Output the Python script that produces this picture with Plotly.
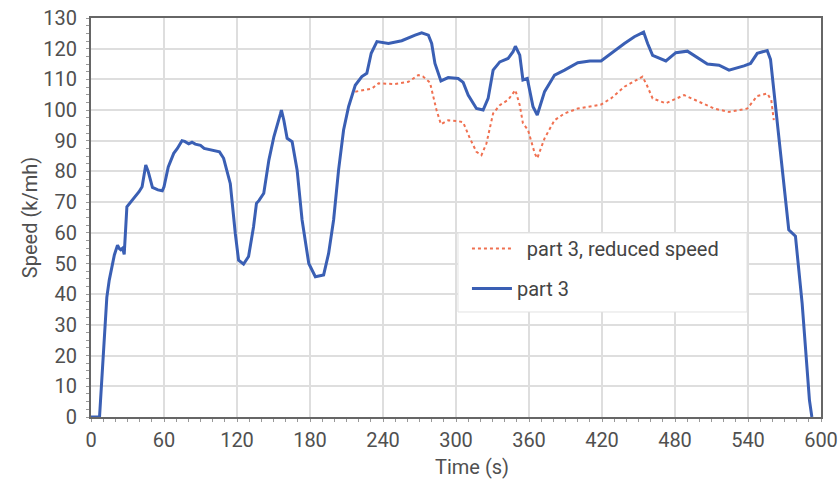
import plotly.graph_objects as go

# ---- data ----
t_part3 = [0, 7, 13, 15, 19.2, 21.8, 23, 24.5, 26, 27.3, 29.5, 34, 36, 39.5, 42, 45, 47, 50.5, 55,
           58.6, 60, 63.5, 68, 71, 74.8, 77, 80.3, 83, 85.7, 90, 93, 98, 102, 105.6, 109, 114.5,
           118.6, 121.3, 125.4, 129.5, 133.6, 136, 138, 142, 146.2, 150.3, 155.8, 156.5, 158.5,
           161.2, 165.3, 169.4, 173.5, 179, 184.4, 191.2, 195.3, 199.4, 203.5, 207.6, 211.7, 217.2,
           222.6, 226.7, 230.3, 235, 244.5, 255.4, 266.4, 271.8, 277.3, 280, 282.7, 287.6, 293.6,
           301.8, 305.9, 310, 316.8, 322.3, 326.4, 330.5, 336, 342.8, 346.9, 348.8, 352.4, 355,
           358.6, 363.3, 366.8, 372.8, 381, 389.2, 400.1, 410, 419.2, 427.4, 438.4, 446.6, 454.2,
           457.5, 461.6, 472.5, 480.7, 490.2, 506.6, 516.2, 524.4, 536.7, 542.1, 547.6, 555.8,
           558.5, 562.6, 568, 573.5, 579, 584.5, 590.5, 592.5]
v_part3 = [0, 0, 39, 44.6, 52.8, 56, 55, 54.5, 55, 53, 68.5, 70.7, 72, 73.4, 75, 82.1, 80, 74.8, 74,
           73.7, 75, 81.5, 85.9, 87.5, 90, 89.8, 89, 89.5, 88.9, 88.5, 87.5, 87, 86.8, 86.4, 84.3, 76,
           59.8, 51.1, 49.8, 52.3, 62, 69.6, 70.5, 72.9, 83.7, 91.3, 98.9, 100, 96.7,
           90.8, 89.7, 80.5, 64.2, 50, 45.7, 46.3, 53.3, 64.2, 80.5, 93.5, 101.1, 108.1,
           110.9, 112, 118.5, 122.3, 121.7, 122.6, 124.4, 125.2, 124.4, 121.7, 115.2, 109.5, 110.6,
           110.3, 109, 104.9, 100.5, 100, 103.8, 113, 115.7, 116.8, 119, 120.8, 117.9, 109.8,
           110.3, 101.1, 98.4, 106, 111.4, 113, 115.4, 116, 116, 118.5, 121.7, 123.9, 125.4,
           121.7, 117.8, 116, 118.7, 119.2, 115, 114.6, 113, 114.4, 115.2, 118.5, 119.4,
           116.5, 101.1, 80.5, 61, 58.9, 37, 5.5, 0]

t_reduced = [217.2, 223, 230.8, 236.3, 250, 260.9, 269, 272.7, 278.6, 281.4, 284, 287.6, 293.6,
             301.8, 305.9, 311.4, 316.8, 320.9, 325, 330.5, 336, 342.8, 348.8, 352.4, 355, 359.2,
             364.7, 366.8, 372.8, 381, 389.2, 400.1, 419.2, 427.4, 438.4, 449.3, 453.3, 457,
             461.6, 472.5, 487.5, 512.1, 524.4, 539.4, 547.6, 555.8, 559.1, 561.2]
v_reduced = [106, 106.5, 107, 108.7, 108.5, 109.2, 111.4, 111, 109, 104.3, 100, 95.4, 96.7,
             96.4, 96, 90.8, 86.4, 85.3, 89.1, 98.9, 101.6, 103.3, 106.5, 101.6, 95.7, 93.5,
             85.9, 84.3, 90.8, 96.7, 98.9, 100.5, 101.8, 103.8, 107.6, 110, 110.9, 108,
             103.8, 102.2, 104.9, 100.5, 99.4, 100.5, 104.6, 105.4, 103.3, 96.7]

x_ticks = [0, 60, 120, 180, 240, 300, 360, 420, 480, 540, 600]
y_ticks = list(range(0, 131, 10))

BLUE = "#3a5fb4"
ORANGE = "#f07050"
FONT = "Roboto"
TXT = "#505050"
FS = 20

fig = go.Figure()
fig.add_trace(go.Scatter(x=t_reduced, y=v_reduced, mode="lines",
                         name="\u00a0\u00a0part 3, reduced speed", legendgroup="a",
                         line=dict(color=ORANGE, width=2, dash="dot")))
fig.add_trace(go.Scatter(x=t_part3, y=v_part3, mode="lines", name="part 3",
                         legendgroup="b",
                         line=dict(color=BLUE, width=3)))

fig.update_layout(
    width=840, height=479,
    margin=dict(l=91, r=19, t=18, b=62),
    paper_bgcolor="white", plot_bgcolor="white",
    font=dict(family=FONT, size=FS, color=TXT),
    showlegend=True,
    legend=dict(x=0.515, y=0.4712, xanchor="left", yanchor="top",
                bgcolor="rgba(0,0,0,0)", borderwidth=0,
                font=dict(family=FONT, size=FS, color="#444444"),
                itemwidth=40, traceorder="grouped", tracegroupgap=11),
    # legend box (frame only)
    shapes=[dict(type="rect", xref="paper", yref="paper", x0=0.5027, x1=0.8986,
                 y0=0.2632, y1=0.4612, fillcolor="white",
                 line=dict(color="#e2e2e2", width=1), layer="above")],
    annotations=[dict(text="Time (s)", xref="paper", yref="paper", x=0.522, y=0,
                      yshift=-36, xanchor="center", yanchor="top", showarrow=False,
                      font=dict(family=FONT, size=FS, color=TXT))],
)
fig.update_xaxes(range=[0, 600], tickvals=x_ticks, ticktext=[str(v) for v in x_ticks],
                 automargin=False, ticklabeloverflow="allow",
                 showgrid=True, gridcolor="#dedede", gridwidth=1.5,
                 showline=True, mirror=True, linecolor="#666666", linewidth=2,
                 ticks="", zeroline=False, ticklabelstandoff=4,
                 tickfont=dict(family=FONT, size=FS, color=TXT),
                 minor=dict(dtick=10, ticks="outside", ticklen=3, tickcolor="#999999",
                            showgrid=False))
fig.update_yaxes(range=[0, 130], tickvals=y_ticks, ticktext=[str(v) for v in y_ticks],
                 automargin=False, ticklabeloverflow="allow",
                 showgrid=True, gridcolor="#dedede", gridwidth=1.5,
                 showline=True, mirror=True, linecolor="#666666", linewidth=2,
                 ticks="", zeroline=False, ticklabelstandoff=8,
                 tickfont=dict(family=FONT, size=FS, color=TXT),
                 title=dict(text="Speed (k/mh)", standoff=0,
                            font=dict(family=FONT, size=FS, color=TXT)),
                 minor=dict(dtick=2.5, ticks="outside", ticklen=3, tickcolor="#999999",
                            showgrid=False))

fig.write_html("out.html")
